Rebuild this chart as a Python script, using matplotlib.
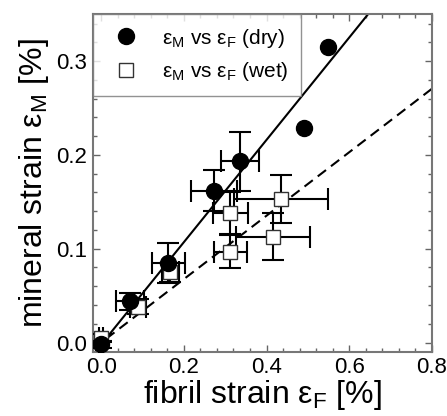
import matplotlib
matplotlib.use("Agg")
import matplotlib.pyplot as plt
from matplotlib.lines import Line2D
import numpy as np

plt.rcParams['font.family'] = ['Liberation Sans', 'DejaVu Sans']
plt.rcParams['mathtext.fontset'] = 'custom'
plt.rcParams['mathtext.rm'] = 'Liberation Sans'
plt.rcParams['mathtext.it'] = 'Liberation Sans:italic'

# dry data (filled circles); nan = no error bar
dry_x = [0.0, 0.07, 0.162, 0.273, 0.336, 0.49, 0.549]
dry_y = [-0.002, 0.044, 0.085, 0.162, 0.193, 0.229, 0.315]
dry_xerr = [0.005, 0.034, 0.040, 0.055, 0.045, np.nan, np.nan]
dry_yerr = [0.004, 0.009, 0.021, 0.022, 0.031, np.nan, np.nan]

# wet data (open squares)
wet_x = [0.0, 0.089, 0.167, 0.312, 0.435, 0.416, 0.312]
wet_y = [0.005, 0.038, 0.075, 0.138, 0.153, 0.113, 0.097]
wet_xerr = [0.005, 0.02, 0.02, 0.042, 0.113, 0.09, 0.04]
wet_yerr = [0.004, 0.008, 0.01, 0.022, 0.026, 0.025, 0.018]

# linear fits
dry_slope, dry_icpt = 0.545, -0.002
wet_slope, wet_icpt = 0.338, 0.0

label_dry = 'ε$_{\\rm M}$ vs ε$_{\\rm F}$ (dry)'
label_wet = 'ε$_{\\rm M}$ vs ε$_{\\rm F}$ (wet)'

fig = plt.figure(figsize=(4.47, 4.16), dpi=100)
ax = fig.add_axes([0.208, 0.154, 0.758, 0.812])

xx = np.array([-0.02, 0.8])
ax.plot(xx, dry_slope * xx + dry_icpt, color='black', lw=1.5, zorder=2)
ax.plot(xx, wet_slope * xx + wet_icpt, color='black', lw=1.5, ls=(0, (5, 3)), zorder=2)

ebkw = dict(ecolor='black', elinewidth=1.5, capsize=8, capthick=1.5)
ax.errorbar(wet_x, wet_y, xerr=wet_xerr, yerr=wet_yerr, fmt='none', zorder=3, **ebkw)
ax.errorbar(dry_x, dry_y, xerr=dry_xerr, yerr=dry_yerr, fmt='none', zorder=3, **ebkw)
ax.plot(wet_x, wet_y, ls='none', marker='s', ms=9.5, mfc='white', mec='#333333',
        mew=1.0, zorder=4)
ax.plot(dry_x, dry_y, ls='none', marker='o', ms=11.5, mfc='black', mec='black',
        zorder=5)

ax.set_xlim(-0.02, 0.8)
ax.set_ylim(-0.01, 0.35)
ax.set_xticks([0.0, 0.2, 0.4, 0.6, 0.8])
ax.set_yticks([0.0, 0.1, 0.2, 0.3])
ax.set_xticks(np.arange(0.0, 0.81, 0.04), minor=True)
ax.set_yticks(np.arange(0.0, 0.35, 0.02), minor=True)
ax.xaxis.set_major_formatter(matplotlib.ticker.FormatStrFormatter('%.1f'))
ax.yaxis.set_major_formatter(matplotlib.ticker.FormatStrFormatter('%.1f'))
ax.tick_params(which='both', direction='in', top=True, right=True, color='#666666',
               labelsize=16)
ax.tick_params(which='major', length=5, width=1, pad=4)
ax.tick_params(which='minor', length=3, width=1)
for s in ax.spines.values():
    s.set_color('#777777')
    s.set_linewidth(1.5)

ax.set_xlabel('fibril strain ε$_{\\rm F}$ [%]', fontsize=23, labelpad=0)
ax.set_ylabel('mineral strain ε$_{\\rm M}$ [%]', fontsize=23, labelpad=4)

handles = [
    Line2D([], [], ls='none', marker='o', ms=11.5, mfc='black', mec='black'),
    Line2D([], [], ls='none', marker='s', ms=9.5, mfc='white', mec='#333333', mew=1.0),
]
leg = ax.legend(handles, [label_dry, label_wet], loc='upper left', bbox_to_anchor=(0, 1),
                fontsize=15, frameon=True, fancybox=False, borderaxespad=0,
                handletextpad=0.72, borderpad=0.6, labelspacing=0.5, handlelength=2.0)
leg.get_frame().set_edgecolor('#777777')
leg.get_frame().set_linewidth(1.0)

fig.savefig('out.png', dpi=100)
